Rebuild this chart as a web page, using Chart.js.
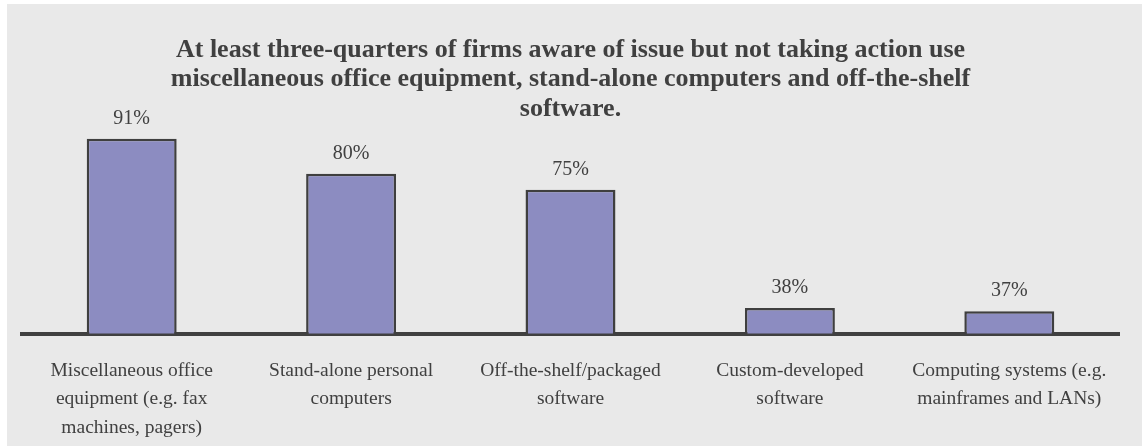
<!DOCTYPE html>
<html>
<head>
<meta charset="utf-8">
<script src="https://cdn.jsdelivr.net/npm/chart.js@4.4.1/dist/chart.umd.min.js"></script>
<style>
  html, body { margin: 0; padding: 0; background: #fff; }
  #wrap { width: 1142px; height: 447px; position: relative; }
</style>
</head>
<body>
<div id="wrap"><canvas id="myChart"></canvas></div>
<script>
// datos del gráfico

const categorias = [
    ['Miscellaneous office', 'equipment (e.g. fax', 'machines, pagers)'],
    ['Stand-alone personal', 'computers'],
    ['Off-the-shelf/packaged', 'software'],
    ['Custom-developed', 'software'],
    ['Computing systems (e.g.', 'mainframes and LANs)']
];
const porcentajes = [91, 80, 75, 38, 37];
const titulo = [
    'At least three-quarters of firms aware of issue but not taking action use',
    'miscellaneous office equipment, stand-alone computers and off-the-shelf',
    'software.'
];

const serif = "'Liberation Serif', 'Times New Roman', serif";
const gris = '#404040';

// fondo gris del panel
const fondoPanel = {
    id: 'fondoPanel',
    beforeDraw(chart) {
        const { ctx, width, height } = chart;
        ctx.save();
        ctx.fillStyle = '#e9e9e9';
        ctx.fillRect(7, 4, width - 7, height - 5);
        ctx.restore();
    }
};

// etiquetas de porcentaje sobre cada barra
const etiquetasBarras = {
    id: 'etiquetasBarras',
    afterDatasetsDraw(chart) {
        const { ctx } = chart;
        const meta = chart.getDatasetMeta(0);
        ctx.save();
        ctx.font = `20px ${serif}`;
        ctx.fillStyle = gris;
        ctx.textAlign = 'center';
        ctx.textBaseline = 'bottom';
        meta.data.forEach((bar, i) => {
            ctx.fillText(`${porcentajes[i]}%`, bar.x, bar.y - 10);
        });
        ctx.restore();
    }
};

const ctx = document.getElementById('myChart').getContext('2d');
const myChart = new Chart(ctx, {
    type: 'bar',
    data: {
        labels: categorias,
        datasets: [{
            data: porcentajes,
            backgroundColor: '#8c8cc1',
            borderColor: '#3f3f3f',
            borderWidth: 2.5,
            borderSkipped: false,
            barPercentage: 0.41,
            categoryPercentage: 1
        }]
    },
    options: {
        responsive: true,
        maintainAspectRatio: false,
        animation: false,
        layout: { padding: { left: 22, right: 23, top: 0, bottom: -10 } },
        plugins: {
            legend: { display: false },
            tooltip: { enabled: false },
            title: {
                display: true,
                text: titulo,
                color: gris,
                font: { family: serif, size: 26, weight: 'bold', lineHeight: 1.14 },
                padding: { top: 35, bottom: 2 }
            }
        },
        scales: {
            x: {
                grid: { display: false },
                border: { display: true, color: gris, width: 4 },
                ticks: {
                    color: gris,
                    font: { family: serif, size: 19.5, lineHeight: 1.46 },
                    padding: 15,
                    maxRotation: 0,
                    autoSkip: false
                }
            },
            y: {
                display: false,
                min: 30,
                max: 95
            }
        }
    },
    plugins: [fondoPanel, etiquetasBarras]
});
</script>
</body>
</html>
